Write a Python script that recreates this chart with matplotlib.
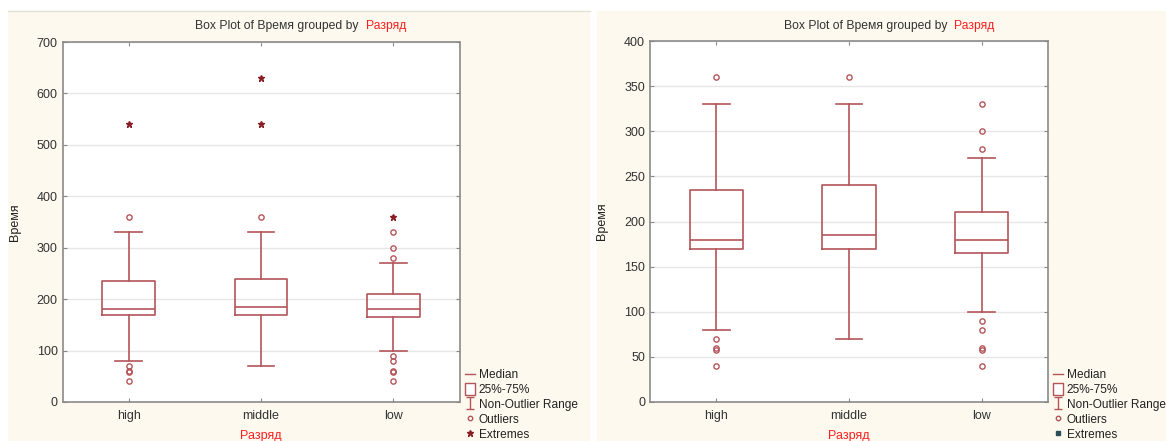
import matplotlib
matplotlib.use('Agg')
import matplotlib.pyplot as plt
from matplotlib.lines import Line2D
from matplotlib.patches import Rectangle
from matplotlib.path import Path

plt.rcParams['font.family'] = ['Liberation Sans', 'DejaVu Sans']
plt.rcParams['font.size'] = 9

# data
categories = ['high', 'middle', 'low']
medians = [180, 185, 180]
q1 = [170, 170, 165]
q3 = [235, 240, 210]
whisk_lo = [80, 70, 100]
whisk_hi = [330, 330, 270]
outliers = [[360, 70, 60, 58, 40], [360], [330, 300, 280, 90, 80, 60, 58, 40]]
extremes = [[540], [630, 540], [360]]
# second chart: same groups, extremes removed
outliers2 = [[360, 70, 60, 58, 40], [360], [330, 300, 280, 90, 80, 60, 58, 40]]

box_c = '#b4555a'
ext_c = '#8b1e24'
spine_c = '#8a8a8a'
cream = '#fdf9ef'

W, H = 1166, 441
fig = plt.figure(figsize=(W / 100, H / 100), dpi=100, facecolor='white')

# cream panels behind each chart
fig.add_artist(Rectangle((8 / W, 0), 582 / W, 430 / H, transform=fig.transFigure,
                         facecolor=cream, edgecolor='none', zorder=-5))
fig.add_artist(Rectangle((597 / W, 0), 569 / W, 430 / H, transform=fig.transFigure,
                         facecolor=cream, edgecolor='none', zorder=-5))
fig.add_artist(Line2D([8 / W, 590 / W], [430 / H, 430 / H], transform=fig.transFigure,
                      color='#e2e0da', lw=1.0, zorder=-4))

rng_path = Path([(-0.75, 1), (0.75, 1), (0, 1), (0, -1), (-0.75, -1), (0.75, -1)],
                [Path.MOVETO, Path.LINETO, Path.MOVETO, Path.LINETO, Path.MOVETO, Path.LINETO])
box_path = Path([(-0.8, -1), (0.8, -1), (0.8, 1), (-0.8, 1), (-0.8, -1)],
                [Path.MOVETO, Path.LINETO, Path.LINETO, Path.LINETO, Path.CLOSEPOLY])


def draw(ax, outl, extr, ymax, ystep, ext_marker, ext_color, ext_ms):
    pos = [0.5, 1.5, 2.5]
    stats = []
    for i, cat in enumerate(categories):
        stats.append({'label': cat, 'med': medians[i], 'q1': q1[i], 'q3': q3[i],
                      'whislo': whisk_lo[i], 'whishi': whisk_hi[i], 'fliers': outl[i]})
    ax.bxp(stats, positions=pos, widths=0.4, capwidths=0.2, manage_ticks=False,
           boxprops=dict(color=box_c, lw=1.2),
           whiskerprops=dict(color=box_c, lw=1.2),
           capprops=dict(color=box_c, lw=1.2),
           medianprops=dict(color=box_c, lw=1.2),
           flierprops=dict(marker='o', ms=3.8, mfc='none', mec=box_c, mew=1.0))
    if extr is not None:
        for p, vals in zip(pos, extr):
            ax.plot([p] * len(vals), vals, ls='none', marker='*', ms=5, color=ext_c)

    ax.set_xlim(0, 3)
    ax.set_ylim(0, ymax)
    ax.set_xticks(pos)
    ax.set_xticklabels(categories)
    ax.set_yticks(range(0, ymax + 1, ystep))
    ax.yaxis.grid(True, color='#e6e6e6', lw=1.0)
    ax.set_axisbelow(True)
    for s in ax.spines.values():
        s.set_color(spine_c)
        s.set_linewidth(1.2)
    ax.tick_params(direction='in', length=3, color=spine_c, labelcolor='#333333',
                   top=True, right=True, labelsize=9)
    ax.tick_params(axis='x', pad=6)

    ax.set_ylabel('Время', color='#222222', fontsize=9)
    ax.yaxis.set_label_coords(-0.105, 0.5)
    ax.set_xlabel('Разряд', color='#ff2020', fontsize=9)
    ax.xaxis.set_label_coords(0.5, -0.094)
    ax.xaxis.label.set_va('center')

    handles = [
        Line2D([], [], color=box_c, lw=1.0),
        Line2D([], [], ls='none', marker=box_path, ms=8.5, mfc='white', mec=box_c, mew=1.0),
        Line2D([], [], ls='none', marker=rng_path, ms=8.5, mfc='none', mec=box_c, mew=1.0),
        Line2D([], [], ls='none', marker='o', ms=3.2, mfc='none', mec=box_c, mew=1.0),
        Line2D([], [], ls='none', marker=ext_marker, ms=ext_ms, color=ext_color),
    ]
    labels = ['Median', '25%-75%', 'Non-Outlier Range', 'Outliers', 'Extremes']
    return handles, labels


ax1 = fig.add_axes([62.5 / W, 39 / H, 397 / W, 360 / H])
h1, l1 = draw(ax1, outliers, extremes, 700, 100, '*', ext_c, 5)
ax2 = fig.add_axes([650 / W, 39 / H, 398 / W, 361 / H])
h2, l2 = draw(ax2, outliers2, None, 400, 50, 's', '#2c4f5a', 3.5)

for hs, ls_, x0 in [(h1, l1, 464.5), (h2, l2, 1052.5)]:
    fig.legend(hs, ls_, loc='upper left', bbox_to_anchor=(x0 / W, 1 - 369 / H),
               bbox_transform=fig.transFigure, frameon=False, fontsize=8.6,
               handlelength=0.9, handletextpad=0.3, labelspacing=0.2,
               borderpad=0, borderaxespad=0, handleheight=1.0, labelcolor='#222222')

# two-colour titles
for xb, xr in [(358.5, 366), (947, 954)]:
    fig.text(xb / W, 1 - 26 / H, 'Box Plot of Время grouped by', ha='right', va='center',
             fontsize=8.7, color='#333333')
    fig.text(xr / W, 1 - 26 / H, 'Разряд', ha='left', va='center', fontsize=8.7,
             color='#ff2020')

fig.savefig('out.png', dpi=100, facecolor='white')
